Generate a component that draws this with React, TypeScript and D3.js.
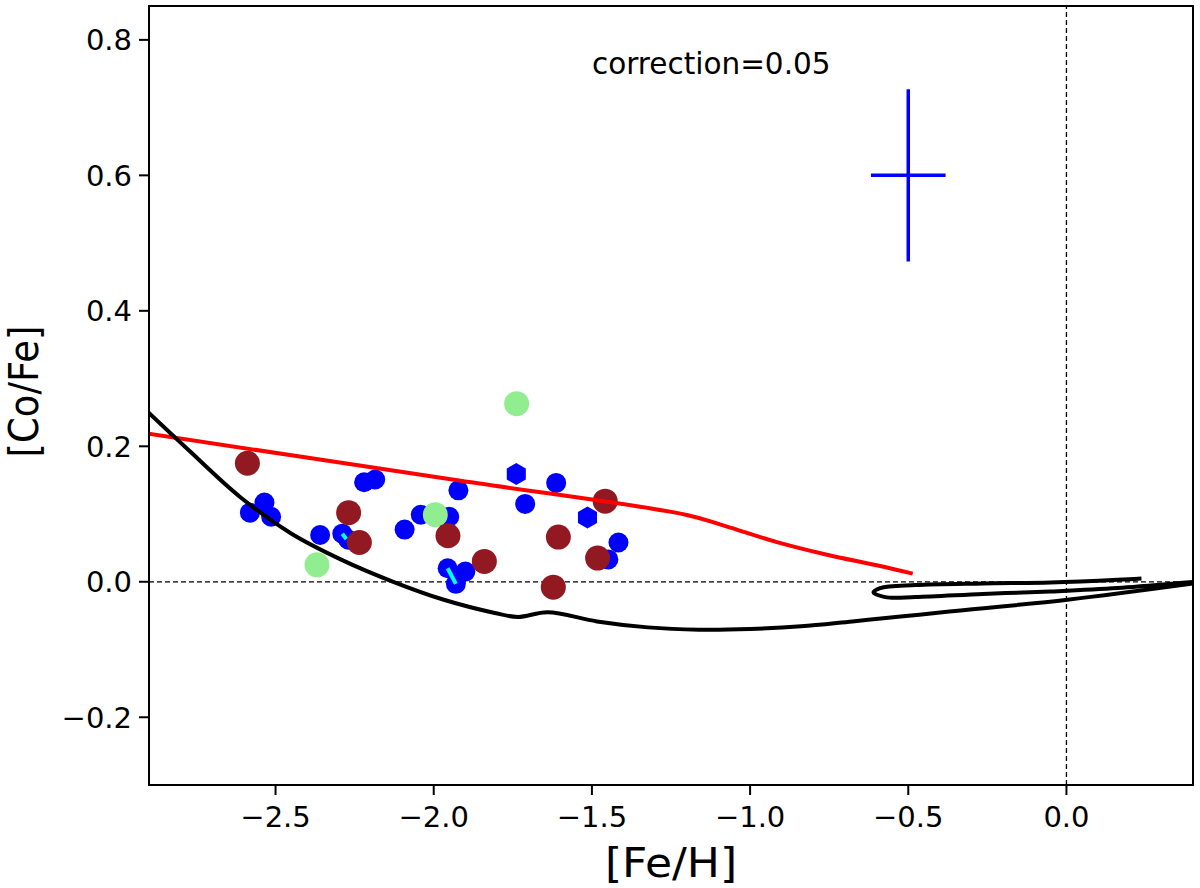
import React, { useEffect, useRef } from "react";
import * as d3 from "d3";

// axis setup
const xDomain = [-2.9, 0.4];
const yDomain = [-0.3, 0.85];
const xTicks = [-2.5, -2.0, -1.5, -1.0, -0.5, 0.0];
const yTicks = [-0.2, 0.0, 0.2, 0.4, 0.6, 0.8];

// stars [Fe/H], [Co/Fe]
const blueStars: [number, number][] = [
  [-2.581, 0.102], [-2.535, 0.117], [-2.514, 0.096], [-2.359, 0.069],
  [-2.22, 0.147], [-2.185, 0.151], [-2.092, 0.077], [-2.041, 0.099],
  [-1.951, 0.096], [-1.922, 0.135], [-1.711, 0.115], [-1.613, 0.146],
  [-1.416, 0.058], [-1.448, 0.033], [-2.289, 0.071], [-2.27, 0.062],
  [-1.956, 0.02], [-1.93, -0.003], [-1.9, 0.015],
];
const blueHex: [number, number][] = [
  [-1.739, 0.159], [-1.514, 0.095],
];
const cyanPairs: [number, number][][] = [
  [[-2.289, 0.071], [-2.276, 0.063]],
  [[-1.956, 0.02], [-1.93, -0.003]],
];
const greenStars: [number, number][] = [
  [-1.738, 0.263], [-1.995, 0.099], [-2.369, 0.025],
];
const redStars: [number, number][] = [
  [-2.589, 0.175], [-2.269, 0.102], [-2.235, 0.058], [-1.955, 0.068],
  [-1.84, 0.03], [-1.606, 0.066], [-1.458, 0.119], [-1.482, 0.035],
  [-1.622, -0.008],
];

// models
const redModel: [number, number][] = [
  [-2.95, 0.222], [-1.936, 0.1505], [-1.2, 0.0987], [-1.08, 0.0825], [-0.918, 0.059],
  [-0.757, 0.04], [-0.596, 0.024], [-0.486, 0.012],
];
const blackModel: [number, number][] = [
  [-2.92, 0.258], [-2.775, 0.1945], [-2.614, 0.126], [-2.452, 0.0717],
  [-2.291, 0.0324], [-2.13, 0.0004], [-1.968, -0.0265], [-1.807, -0.046],
  [-1.734, -0.052], [-1.64, -0.045], [-1.484, -0.0585], [-1.323, -0.0673],
  [-1.161, -0.0707], [-1.0, -0.0697], [-0.839, -0.0658], [-0.677, -0.0585],
  [-0.516, -0.051], [-0.37, -0.044], [0.003, -0.0265], [0.41, -0.002],
  [0.47, 0.002], [0.163, -0.0093], [-0.051, -0.0143], [-0.264, -0.018],
  [-0.477, -0.0226], [-0.573, -0.0226], [-0.61, -0.0157], [-0.589, -0.0093],
  [-0.477, -0.0049], [-0.264, -0.0025], [-0.051, -0.001], [0.162, 0.003],
  [0.237, 0.005],
];

const errBar = { x: -0.5, y: 0.6, xerr: 0.118, yerr: 0.127 };
const note = { x: -1.5, y: 0.75, text: "correction=0.05" };

const W = 1200, H = 888;
const margin = { left: 149, right: 7, top: 6, bottom: 103 };
const font = "DejaVu Sans, sans-serif";

const fmt = (v: number) => {
  const s = Math.abs(v).toFixed(1);
  return v < -1e-9 ? "\u2212" + s : s;
};

const App = () => {
  const ref = useRef<SVGSVGElement>(null);

  useEffect(() => {
    const svg = d3.select(ref.current);
    svg.selectAll("*").remove();

    const x = d3.scaleLinear().domain(xDomain).range([margin.left, W - margin.right]);
    const y = d3.scaleLinear().domain(yDomain).range([H - margin.bottom, margin.top]);
    const [x0, x1] = x.range();
    const [y0, y1] = y.range();

    svg.append("rect").attr("width", W).attr("height", H).attr("fill", "#fff");

    svg.append("defs").append("clipPath").attr("id", "plotclip")
      .append("rect").attr("x", x0).attr("y", y1).attr("width", x1 - x0).attr("height", y0 - y1);

    const g = svg.append("g").attr("clip-path", "url(#plotclip)");

    // reference dashed lines
    g.append("line").attr("x1", x0).attr("x2", x1).attr("y1", y(0)).attr("y2", y(0))
      .attr("stroke", "#000").attr("stroke-width", 1.3).attr("stroke-dasharray", "5,3");
    g.append("line").attr("x1", x(0)).attr("x2", x(0)).attr("y1", y0).attr("y2", y1)
      .attr("stroke", "#000").attr("stroke-width", 1.3).attr("stroke-dasharray", "5,3");

    // blue stars
    g.selectAll("circle.blue").data(blueStars).join("circle").attr("class", "blue")
      .attr("cx", (d) => x(d[0])).attr("cy", (d) => y(d[1])).attr("r", 10).attr("fill", "#0000ff");

    const hexR = 11;
    const hexPts = d3.range(6).map((i) => {
      const a = -Math.PI / 2 + (i * Math.PI) / 3;
      return [hexR * Math.cos(a), hexR * Math.sin(a)];
    });
    g.selectAll("path.hex").data(blueHex).join("path").attr("class", "hex")
      .attr("d", "M" + hexPts.map((p) => p.join(",")).join("L") + "Z")
      .attr("transform", (d) => `translate(${x(d[0])},${y(d[1])})`)
      .attr("fill", "#0000ff");

    const lin = d3.line<[number, number]>().x((d) => x(d[0])).y((d) => y(d[1]));

    g.selectAll("path.cyan").data(cyanPairs).join("path").attr("class", "cyan")
      .attr("d", (d) => lin(d as [number, number][]))
      .attr("stroke", "#00ffff").attr("stroke-width", 4).attr("fill", "none");

    g.selectAll("circle.green").data(greenStars).join("circle").attr("class", "green")
      .attr("cx", (d) => x(d[0])).attr("cy", (d) => y(d[1])).attr("r", 12.5).attr("fill", "#90ee90");

    g.selectAll("circle.red").data(redStars).join("circle").attr("class", "red")
      .attr("cx", (d) => x(d[0])).attr("cy", (d) => y(d[1])).attr("r", 12.5).attr("fill", "#921821");

    // models
    const smooth = d3.line<[number, number]>().x((d) => x(d[0])).y((d) => y(d[1]))
      .curve(d3.curveCatmullRom.alpha(0.5));
    g.append("path").attr("d", smooth(redModel))
      .attr("fill", "none").attr("stroke", "#ff0000").attr("stroke-width", 4);
    g.append("path").attr("d", smooth(blackModel))
      .attr("fill", "none").attr("stroke", "#000").attr("stroke-width", 4)
      .attr("stroke-linejoin", "round");

    // typical error
    g.append("line").attr("x1", x(errBar.x - errBar.xerr)).attr("x2", x(errBar.x + errBar.xerr))
      .attr("y1", y(errBar.y)).attr("y2", y(errBar.y))
      .attr("stroke", "#0000ff").attr("stroke-width", 3.5);
    g.append("line").attr("x1", x(errBar.x)).attr("x2", x(errBar.x))
      .attr("y1", y(errBar.y - errBar.yerr)).attr("y2", y(errBar.y + errBar.yerr))
      .attr("stroke", "#0000ff").attr("stroke-width", 3.5);

    svg.append("text").attr("x", x(note.x)).attr("y", y(note.y))
      .attr("font-family", font).attr("font-size", 29.5).attr("fill", "#000").text(note.text);

    // frame
    svg.append("rect").attr("x", x0).attr("y", y1).attr("width", x1 - x0).attr("height", y0 - y1)
      .attr("fill", "none").attr("stroke", "#000").attr("stroke-width", 2);

    // x ticks
    const xt = svg.append("g").selectAll("g").data(xTicks).join("g")
      .attr("transform", (d) => `translate(${x(d)},${y0})`);
    xt.append("line").attr("y2", 10).attr("stroke", "#000").attr("stroke-width", 2);
    xt.append("text").attr("y", 42).attr("text-anchor", "middle")
      .attr("font-family", font).attr("font-size", 29).text((d) => fmt(d));

    // y ticks
    const yt = svg.append("g").selectAll("g").data(yTicks).join("g")
      .attr("transform", (d) => `translate(${x0},${y(d)})`);
    yt.append("line").attr("x2", -10).attr("stroke", "#000").attr("stroke-width", 2);
    yt.append("text").attr("x", -17).attr("y", 10.5).attr("text-anchor", "end")
      .attr("font-family", font).attr("font-size", 29).text((d) => fmt(d));

    // axis labels (slightly wide, as in the source image)
    svg.append("text").attr("transform", `translate(${(x0 + x1) / 2},877) scale(1.1,1)`)
      .attr("text-anchor", "middle")
      .attr("font-family", font).attr("font-size", 40).text("[Fe/H]");
    svg.append("text").attr("transform", `translate(38,${(y0 + y1) / 2 - 4}) scale(1.1,1) rotate(-90)`)
      .attr("text-anchor", "middle").attr("font-family", font).attr("font-size", 37).text("[Co/Fe]");
  }, []);

  return (
    <div style={{ position: "absolute", left: 0, top: 0 }}>
      <svg ref={ref} width={W} height={H} viewBox={`0 0 ${W} ${H}`} style={{ display: "block" }}></svg>
    </div>
  );
};

export default App;
